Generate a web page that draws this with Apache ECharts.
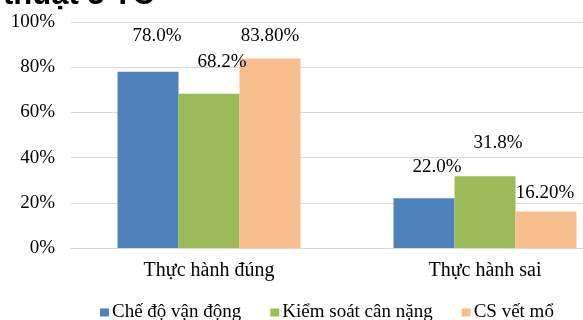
<!DOCTYPE html>
<html>
<head>
<meta charset="utf-8">
<script src="https://cdn.jsdelivr.net/npm/echarts@6/dist/echarts.min.js"></script>
<style>
  html, body { margin: 0; padding: 0; background: #fff; overflow: hidden; }
  /* biểu đồ gốc bị cắt ở mép phải, nên vẽ rộng hơn khung nhìn */
  #chart { width: 623px; height: 320px; }
</style>
</head>
<body>
<div id="chart"></div>
<script>
// Dữ liệu
var categories = ["Thực hành đúng", "Thực hành sai"];
var seriesNames = ["Chế độ vận động", "Kiểm soát cân nặng", "CS vết mổ"];
var vanDong = [78.0, 22.0];
var canNang = [68.2, 31.8];
var vetMo = [83.8, 16.2];
// nhãn hiển thị đúng như hình (định dạng không đồng nhất)
var vanDongLabels = ["78.0%", "22.0%"];
var canNangLabels = ["68.2%", "31.8%"];
var vetMoLabels = ["83.80%", "16.20%"];
var yTicks = [0, 20, 40, 60, 80, 100];

var colors = ["#4F81BD", "#9BBB59", "#F9BE8E"];
var serif = "Liberation Serif";

var chart = echarts.init(document.getElementById("chart"));

// nhãn được kéo lệch tay trong Excel, nên mỗi điểm có offset riêng
function buildData(values, labels, offsets) {
    return values.map(function (v, i) {
        return {
            value: v,
            label: { formatter: labels[i], offset: offsets[i] }
        };
    });
}

function makeSeries(name, values, labels, offsets, color) {
    return {
        name: name,
        type: "bar",
        barGap: "0%",
        barCategoryGap: "33.7%",
        itemStyle: { color: color },
        label: {
            show: true,
            position: "top",
            color: "#000",
            fontFamily: serif,
            fontSize: 19
        },
        data: buildData(values, labels, offsets)
    };
}

var option = {
    animation: false,
    title: {
        text: "thuật 3 TC",
        left: -2,
        top: -25,
        textStyle: { fontFamily: "Liberation Sans", fontWeight: "bold", fontSize: 31, color: "#000" }
    },
    legend: {
        data: seriesNames,
        bottom: -7,
        left: 95,
        itemWidth: 9,
        itemHeight: 8,
        itemGap: 29,
        icon: "rect",
        textStyle: { fontFamily: serif, fontSize: 19, color: "#000", padding: [0, 0, 0, -2] }
    },
    grid: { left: 71, right: 0, top: 22, bottom: 72 },
    xAxis: {
        type: "category",
        data: categories,
        axisLine: { lineStyle: { color: "#D9D9D9" } },
        axisTick: { show: false },
        axisLabel: { color: "#000", fontFamily: serif, fontSize: 20, margin: 13 }
    },
    yAxis: {
        type: "value",
        min: yTicks[0],
        max: yTicks[yTicks.length - 1],
        interval: 20,
        axisLine: { show: false },
        axisTick: { show: false },
        splitLine: { lineStyle: { color: "#D9D9D9" } },
        axisLabel: {
            color: "#000",
            fontFamily: serif,
            fontSize: 19,
            margin: 16,
            formatter: function (v) { return v + "%"; }
        }
    },
    series: [
        makeSeries(seriesNames[0], vanDong, vanDongLabels, [[9, -21], [13, -17]], colors[0]),
        makeSeries(seriesNames[1], canNang, canNangLabels, [[13, -17], [13, -19]], colors[1]),
        makeSeries(seriesNames[2], vetMo, vetMoLabels, [[0, -8], [-1, -4]], colors[2])
    ]
};

chart.setOption(option);
</script>
</body>
</html>
